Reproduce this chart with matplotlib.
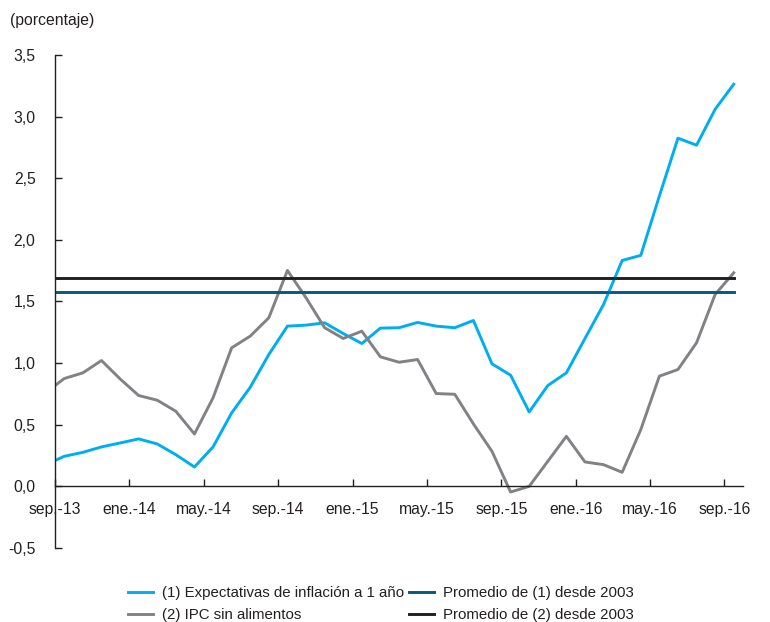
import matplotlib
matplotlib.use("Agg")
import matplotlib.pyplot as plt
import numpy as np

plt.rcParams['font.family'] = ['Liberation Sans', 'DejaVu Sans']

# monthly data, ago-13 .. sep-16 (first point falls just left of the axis)
expectativas = [0.175, 0.244, 0.276, 0.320, 0.352, 0.385, 0.344, 0.257, 0.157, 0.320,
                0.596, 0.804, 1.070, 1.300, 1.308, 1.327, 1.240, 1.159, 1.284, 1.287,
                1.330, 1.300, 1.287, 1.346, 0.994, 0.902, 0.604, 0.818, 0.921, 1.200,
                1.476, 1.833, 1.874, 2.356, 2.825, 2.768, 3.060, 3.263]
ipc_sin_alim = [0.760, 0.875, 0.921, 1.021, 0.872, 0.737, 0.699, 0.609, 0.425, 0.718,
                1.124, 1.219, 1.368, 1.752, 1.530, 1.287, 1.200, 1.259, 1.051, 1.007,
                1.029, 0.753, 0.747, 0.507, 0.284, -0.046, 0.000, 0.203, 0.406, 0.198,
                0.176, 0.114, 0.460, 0.894, 0.948, 1.165, 1.557, 1.733]
prom_1 = 1.58
prom_2 = 1.69

tick_labels = ["sep.-13", "ene.-14", "may.-14", "sep.-14", "ene.-15",
               "may.-15", "sep.-15", "ene.-16", "may.-16", "sep.-16"]
y_ticks = [-0.5, 0.0, 0.5, 1.0, 1.5, 2.0, 2.5, 3.0, 3.5]
y_labels = ["-0,5", "0,0", "0,5", "1,0", "1,5", "2,0", "2,5", "3,0", "3,5"]

x = np.arange(len(expectativas)) - 0.5

c_blue = "#00AEEF"
c_gray = "#808285"
c_teal = "#005B7F"
c_black = "#231F20"
txt = "#231F20"

fig = plt.figure(figsize=(7.7, 6.22), dpi=100)
ax = fig.add_axes([0.0714, 0.119, 0.8936, 0.7926])

ax.plot(x, expectativas, color=c_blue, lw=2.1,
        label="(1) Expectativas de inflación a 1 año")
ax.plot(x, ipc_sin_alim, color=c_gray, lw=2.1, label="(2) IPC sin alimentos")
ax.plot([x[0], x[-1]], [prom_1, prom_1], color=c_teal, lw=2.1,
        label="Promedio de (1) desde 2003")
ax.plot([x[0], x[-1]], [prom_2, prom_2], color=c_black, lw=2.1,
        label="Promedio de (2) desde 2003")

ax.set_xlim(0, 37)
ax.set_ylim(-0.5, 3.5)

ax.spines['top'].set_visible(False)
ax.spines['right'].set_visible(False)
ax.spines['bottom'].set_position(('data', 0))
for s in ('left', 'bottom'):
    ax.spines[s].set_color(txt)
    ax.spines[s].set_linewidth(1.0)

ax.set_xticks(np.arange(0, 37, 4))
ax.set_xticklabels(tick_labels)
ax.set_yticks(y_ticks)
ax.set_yticklabels(y_labels)
ax.tick_params(axis='x', direction='in', length=5, width=1, colors=txt,
               labelsize=11.3, pad=11)
ax.tick_params(axis='y', direction='in', length=5, width=1, colors=txt,
               labelsize=11.3, pad=14)

fig.text(10 / 770, 1 - 21 / 622, "(porcentaje)", fontsize=11.3, color=txt,
         ha='left', va='center')

leg = fig.legend(loc='upper left', bbox_to_anchor=(128 / 770, 1 - 586 / 622),
                 ncol=2, frameon=False, fontsize=10.8, borderpad=0,
                 borderaxespad=0, handlelength=1.65, handletextpad=0.6,
                 columnspacing=0.35, labelspacing=0.55)
for t in leg.get_texts():
    t.set_color(txt)

fig.savefig("out.png", dpi=100)
